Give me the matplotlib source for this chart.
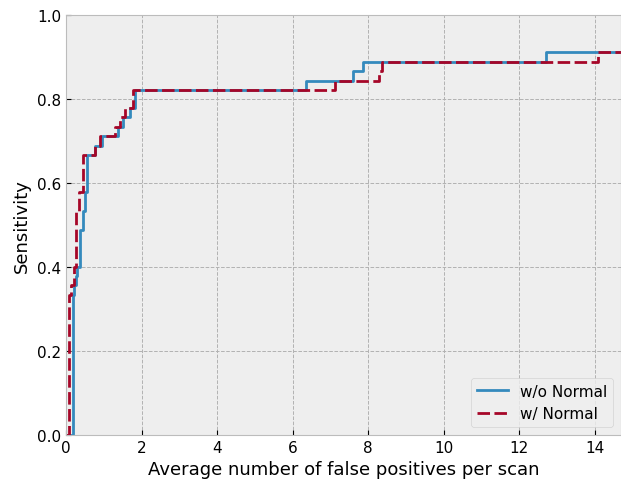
import numpy as np
import matplotlib
matplotlib.use("Agg")
import matplotlib.pyplot as plt

plt.style.use("bmh")

# FROC-style step curves: average false positives per scan vs sensitivity
fp_wo = [0.0, 0.18, 0.22, 0.26, 0.29, 0.36, 0.44, 0.49, 0.556, 0.77, 0.95, 1.37, 1.52, 1.70,
         1.83, 6.36, 7.60, 7.87, 12.72, 14.7]
sens_wo = [0.0, 0.333, 0.356, 0.378, 0.400, 0.489, 0.533, 0.578, 0.667, 0.689, 0.711, 0.733,
           0.756, 0.778, 0.822, 0.844, 0.867, 0.889, 0.911, 0.911]

fp_w = [0.0, 0.09, 0.14, 0.20, 0.27, 0.34, 0.44, 0.77, 0.90, 1.31, 1.42, 1.56, 1.78,
        7.13, 8.30, 8.36, 14.1, 14.7]
sens_w = [0.0, 0.333, 0.356, 0.400, 0.533, 0.578, 0.667, 0.689, 0.711, 0.733, 0.756, 0.778,
          0.822, 0.844, 0.867, 0.889, 0.911, 0.911]

fig = plt.figure(figsize=(6.21, 4.81), dpi=100)
ax = fig.add_axes([66 / 621, 45 / 481, 555 / 621, 420 / 481])

ax.plot(fp_wo, sens_wo, drawstyle="steps-post", color="#348ABD", lw=2, label="w/o Normal")
ax.plot(fp_w, sens_w, drawstyle="steps-post", color="#A60628", lw=2, ls=(0, (4.5, 1.6)),
        label="w/ Normal")

ax.set_xlim(0, 14.7)
ax.set_ylim(0, 1.0)
ax.grid(True, color="#b2b2b2", ls="--", lw=0.7)
ax.set_xlabel("Average number of false positives per scan", fontsize=13)
ax.set_ylabel("Sensitivity", fontsize=13)
ax.tick_params(labelsize=11)
ax.legend(loc="lower right", fontsize=11)

fig.savefig("out.png", dpi=100)
